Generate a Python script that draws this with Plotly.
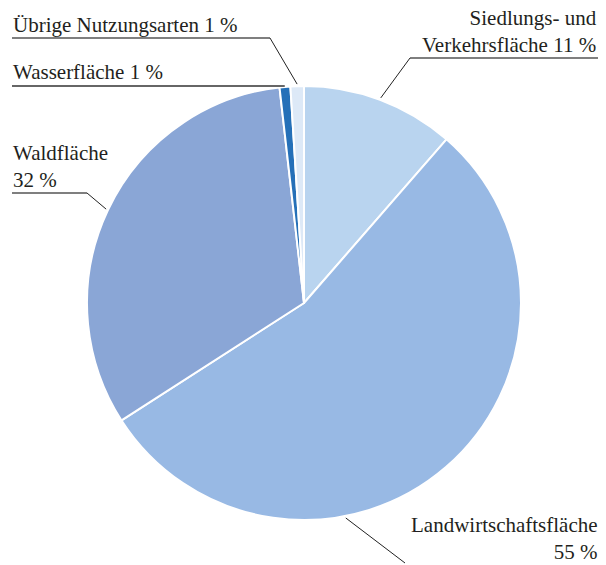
import math
import plotly.graph_objects as go

categories = ["Siedlungs- und Verkehrsfläche", "Landwirtschaftsfläche", "Waldfläche",
              "Wasserfläche", "Übrige Nutzungsarten"]
values = [11.4, 54.5, 32.3, 0.8, 1.0]
label_texts = ["Siedlungs- und<br>Verkehrsfläche 11 %", "Landwirtschaftsfläche<br>55 %",
               "Waldfläche<br>32 %", "Wasserfläche 1 %", "Übrige Nutzungsarten 1 %"]
colors = ["#b9d4ef", "#98b9e4", "#8aa6d6", "#2570b8", "#dde9f7"]

W, H = 606, 565
CX, CY, R = 304, 303, 217

def px(x):
    return x / W

def py(y):
    return 1 - y / H

fig = go.Figure(go.Pie(
    labels=categories, values=values, sort=False, direction="clockwise", rotation=0,
    marker=dict(colors=colors, line=dict(color="white", width=2)),
    textinfo="none", hoverinfo="label+percent",
    domain=dict(x=[px(CX - R), px(CX + R)], y=[py(CY + R), py(CY - R)]),
    showlegend=False,
))

# slice mid angles (degrees clockwise from top)
total = sum(values)
mids = []
acc = 0
for v in values:
    mids.append((acc + v / 2) / total * 360)
    acc += v

def edge_point(angle_deg, extra=2):
    a = math.radians(angle_deg)
    return CX + (R + extra) * math.sin(a), CY - (R + extra) * math.cos(a)

# label layout: (text x, text y, xanchor, yanchor, align, underline x0, x1, y, anchor angle)
layout_spec = [
    (598, 58, "right", "bottom", "right", 598, 410, 58, mids[0]),
    (599, 565, "right", "bottom", "right", None, 405, 563, 169),
    (12, 193, "left", "bottom", "left", 12, 87, 193, mids[2]),
    (12, 85, "left", "bottom", "left", 12, None, 86, mids[3]),
    (12, 38, "left", "bottom", "left", 12, 270, 38, mids[4]),
]

font = dict(family="Liberation Serif", size=21, color="#231f20")
annotations = []
shapes = []
for txt, (tx, ty, xa, ya, al, ux0, ux1, uy, ang) in zip(label_texts, layout_spec):
    annotations.append(dict(x=px(tx), y=py(ty), xref="paper", yref="paper", text=txt,
                            showarrow=False, xanchor=xa, yanchor=ya, align=al, font=font,
                            borderpad=0))
    ex, ey = edge_point(ang)
    if ux1 is None:
        shapes.append(dict(type="line", xref="paper", yref="paper", x0=px(ux0), y0=py(uy),
                           x1=px(ex), y1=py(uy), line=dict(color="#333333", width=1.3)))
        continue
    if ux0 is not None:
        shapes.append(dict(type="line", xref="paper", yref="paper", x0=px(ux0), y0=py(uy),
                           x1=px(ux1), y1=py(uy), line=dict(color="#555555", width=1.5)))
    shapes.append(dict(type="line", xref="paper", yref="paper", x0=px(ux1), y0=py(uy),
                       x1=px(ex), y1=py(ey), line=dict(color="#222222", width=1)))

fig.update_layout(width=W, height=H, margin=dict(l=0, r=0, t=0, b=0),
                  paper_bgcolor="white", plot_bgcolor="white",
                  annotations=annotations, shapes=shapes)
fig.write_html("out.html", config={"displayModeBar": False},
               post_script="document.body.style.margin='0';document.body.style.overflow='hidden';")
